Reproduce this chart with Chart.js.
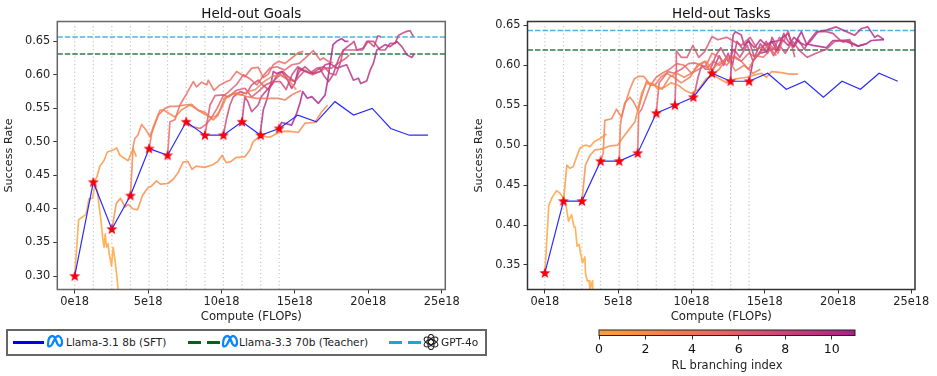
<!DOCTYPE html>
<html>
<head>
<meta charset="utf-8">
<script src="https://cdn.jsdelivr.net/npm/chart.js@4"></script>
<style>
    html, body { margin: 0; padding: 0; background: #fff; overflow: hidden; }
    body { width: 937px; height: 376px; position: relative; font-family: "DejaVu Sans", sans-serif; }
    canvas { position: absolute; }
    #legend { position: absolute; left: 6px; top: 329px; width: 477px; height: 23px; border: 2px solid #666; font-size: 10.6px; color: #222; }
    #legend span { position: absolute; top: 5px; white-space: nowrap; }
    #legend svg { position: absolute; }
    #legend i { position: absolute; height: 3px; top: 9.5px; }
</style>
</head>
<body>
<canvas id="goalsChart" style="left:0;top:0"></canvas>
<canvas id="tasksChart" style="left:470px;top:0"></canvas>
<canvas id="barChart" style="left:570px;top:322px"></canvas>
<div id="legend">
    <i style="left:5px;width:31px;background:#0000f0"></i>
    <svg style="left:38px;top:3px" width="18" height="14" viewBox="0 0 18 14"><path d="M2 11 C2 3 5 2 6.5 2 C9 2 10 7 11.5 10 C12.5 12 15.5 13 16 9 C16.4 5 14 2 12 2 C9.5 2 7.5 8 6 10.5 C4.5 13 2 13 2 11 Z" fill="none" stroke="#0a84ff" stroke-width="2.3"/></svg>
    <span style="left:58px">Llama-3.1 8b (SFT)</span>
    <i style="left:180px;width:13px;background:#0b5f1c"></i>
    <i style="left:199px;width:13px;background:#0b5f1c"></i>
    <svg style="left:213px;top:3px" width="18" height="14" viewBox="0 0 18 14"><path d="M2 11 C2 3 5 2 6.5 2 C9 2 10 7 11.5 10 C12.5 12 15.5 13 16 9 C16.4 5 14 2 12 2 C9.5 2 7.5 8 6 10.5 C4.5 13 2 13 2 11 Z" fill="none" stroke="#0a84ff" stroke-width="2.3"/></svg>
    <span style="left:231px">Llama-3.3 70b (Teacher)</span>
    <i style="left:381px;width:13px;background:#1aa7d6"></i>
    <i style="left:400px;width:13px;background:#1aa7d6"></i>
    <svg style="left:415px;top:3px" width="16" height="16" viewBox="-8 -8 16 16" fill="none" stroke="#222" stroke-width="1.2">
        <ellipse rx="3" ry="5.2" cy="-2.4" transform="rotate(0)"/><ellipse rx="3" ry="5.2" cy="-2.4" transform="rotate(60)"/><ellipse rx="3" ry="5.2" cy="-2.4" transform="rotate(120)"/>
        <ellipse rx="3" ry="5.2" cy="-2.4" transform="rotate(180)"/><ellipse rx="3" ry="5.2" cy="-2.4" transform="rotate(240)"/><ellipse rx="3" ry="5.2" cy="-2.4" transform="rotate(300)"/>
    </svg>
    <span style="left:433px">GPT-4o</span>
</div>
<script>
// compute values are in units of 1e18 FLOPs
const sftX = [0, 1.27, 2.53, 3.8, 5.07, 6.33, 7.6, 8.87, 10.13, 11.4, 12.67, 13.93, 15.2, 16.47, 17.73, 19, 20.27, 21.53, 22.8, 24.07];
const goalsSft = [0.30, 0.44, 0.37, 0.42, 0.49, 0.48, 0.53, 0.51, 0.51, 0.53, 0.51, 0.52, 0.54, 0.53, 0.56, 0.54, 0.55, 0.52, 0.51, 0.51];
const tasksSft = [0.34, 0.43, 0.43, 0.48, 0.48, 0.49, 0.54, 0.55, 0.56, 0.59, 0.58, 0.58, 0.59, 0.57, 0.58, 0.56, 0.58, 0.57, 0.59, 0.58];
const goalsTeacher = 0.631;
const goalsGpt = 0.6565;
const tasksTeacher = 0.619;
const tasksGpt = 0.6435;
const xTicks = [0, 5, 10, 15, 20, 25];

// RL branches, [compute, success rate], one per starting checkpoint
const goalsBranch0 = [[0,.30],[.27,.384],[.77,.392],[.97,.415],[1.22,.416],[1.38,.437],[1.54,.427],[1.65,.407],[1.79,.383],[1.9,.358],[2,.343],[2.08,.363],[2.17,.343],[2.28,.348],[2.35,.333],[2.51,.315],[2.62,.343],[2.74,.324],[2.85,.304],[2.96,.28],[3,.27]];
const goalsBranch1 = [[1.27,.44],[1.5,.447],[1.72,.464],[1.99,.472],[2.22,.485],[2.62,.488],[2.86,.491],[3.08,.48],[3.64,.472],[3.98,.49],[4.2,.478]];
const goalsBranch2 = [[2.53,.369],[2.83,.408],[3.12,.416],[3.42,.403],[3.64,.407],[3.98,.40],[4.28,.399],[4.62,.42],[5,.432],[5.23,.434],[5.57,.442],[5.84,.437],[6.36,.438],[6.7,.444],[7.04,.454],[7.38,.47],[7.71,.471],[7.99,.459],[8.28,.464],[8.85,.462],[9.41,.466],[9.75,.471],[10.05,.48],[10.32,.469],[10.66,.471],[11,.477],[11.2,.477],[11.6,.478],[11.94,.488],[12.15,.50],[12.62,.509],[13.3,.507],[13.98,.515],[14.55,.516],[15.23,.514],[15.69,.528],[16.37,.529],[16.83,.545],[17.23,.555]];
const goalsBranch3 = [[3.8,.42],[3.9,.46],[3.98,.493],[4.1,.505],[4.3,.51],[4.56,.526],[4.85,.518],[5.13,.508],[5.36,.523],[5.81,.547],[6.04,.548],[6.38,.543],[6.83,.537],[7.29,.548],[7.85,.555],[8.3,.549],[8.7,.543],[9.2,.537],[9.6,.538],[10,.55],[10.3,.565],[10.8,.572],[11.3,.57],[11.8,.575],[12.3,.578],[12.9,.59],[13.4,.597],[13.9,.6],[14.4,.598],[14.9,.583],[15.1,.578]];
const goalsBranch4 = [[5.07,.49],[5.25,.513],[5.7,.54],[6.15,.55],[6.5,.553],[6.95,.553],[7.5,.555],[7.97,.556],[8.42,.547],[8.88,.544],[9.44,.533],[9.77,.54],[10.2,.565],[10.58,.57],[11.03,.573],[11.72,.5675],[12.4,.565],[13.08,.565],[13.88,.565],[14.33,.5625],[14.78,.57],[15.24,.575],[15.42,.576]];
const goalsBranch5 = [[6.33,.48],[6.49,.53],[6.83,.533],[7.17,.555],[7.63,.572],[8.08,.59],[8.3,.582],[8.65,.589],[9,.585],[9.1,.592],[9.49,.577],[9.9,.585],[10.35,.59],[10.58,.592],[11.03,.605],[11.6,.597],[12.06,.61],[12.51,.611],[12.85,.596],[13.19,.601],[13.53,.615],[13.88,.62],[14.33,.617],[14.9,.627],[15.24,.633],[15.58,.635]];
const goalsBranch6 = [[7.6,.53],[7.97,.523],[8.54,.52],[8.88,.525],[9.3,.535],[9.7,.55],[10.1,.568],[10.5,.575],[11,.585],[11.5,.60],[12,.593],[12.4,.585],[12.9,.6],[13.3,.61],[13.8,.612],[14.3,.607],[14.8,.615],[15.3,.617],[15.7,.625],[16.26,.636],[16.72,.622],[16.95,.625],[17.28,.62],[17.6,.618]];
const goalsBranch7 = [[8.87,.51],[9.22,.555],[9.56,.569],[10.13,.57],[10.47,.567],[11.03,.577],[11.6,.58],[12.06,.567],[12.5,.575],[13,.585],[13.5,.59],[14,.6],[14.5,.593],[15,.59],[15.4,.6],[15.7,.607],[16.2,.6],[16.7,.605],[17.1,.61],[17.5,.61],[18,.618],[18.5,.625],[18.7,.63]];
const goalsBranch8 = [[10.13,.51],[10.35,.535],[10.58,.555],[10.8,.567],[11.26,.575],[11.7,.572],[12.06,.585],[12.5,.592],[12.8,.585],[13.2,.578],[13.6,.59],[14,.59],[14.4,.578],[14.8,.6],[15.2,.612],[15.6,.607],[16,.602],[16.5,.61],[17,.612],[17.4,.602],[17.8,.6],[18.1,.618],[18.3,.637],[18.9,.637],[19.3,.637],[19.6,.637],[20,.65],[20.4,.642],[20.65,.658],[20.85,.657]];
const goalsBranch9 = [[11.4,.53],[11.5,.55],[11.6,.567],[11.8,.56],[12.06,.545],[12.5,.555],[12.7,.567],[13,.575],[13.4,.585],[13.8,.6],[14.2,.605],[14.5,.598],[15,.59],[15.3,.605],[15.7,.612],[16.2,.602],[16.7,.61],[17,.598],[17.3,.59],[17.6,.60],[18,.625],[18.31,.637],[18.88,.647],[19.03,.65],[19.22,.637],[19.67,.64],[19.9,.65],[20.35,.65],[20.81,.637],[21.15,.637],[21.49,.647],[21.83,.647],[22.06,.659],[22.51,.664],[22.85,.666],[23.08,.657]];
const goalsBranch10 = [[12.63,.51],[12.85,.548],[13.08,.5625],[13.42,.592],[13.53,.605],[13.76,.602],[14.1,.605],[14.44,.595],[14.78,.58],[15,.587],[15.24,.61],[15.69,.605],[16.26,.602],[16.72,.605],[17.06,.615],[17.4,.617],[17.85,.61],[18.53,.615],[18.99,.592],[19.33,.595],[19.49,.587],[19.9,.591],[20.13,.607],[20.35,.617],[20.58,.637],[20.81,.64],[21.15,.645],[21.49,.642],[21.94,.65],[22.29,.642],[22.63,.63],[22.97,.626],[23.13,.631]];
const goalsBranch11 = [[13.92,.52],[14.1,.529],[14.78,.525],[15.13,.543],[15.35,.558],[15.53,.575],[15.85,.565],[16.15,.5675],[16.6,.5575],[17.06,.57],[17.24,.592],[17.44,.622],[17.6,.645],[17.85,.65],[18.19,.654],[18.42,.65],[18.65,.65]];

const tasksBranch0 = [[0,.34],[.27,.425],[.52,.4355],[.8,.443],[1.02,.44],[1.25,.434],[1.48,.421],[1.61,.405],[1.82,.413],[1.98,.398],[2.07,.3975],[2.2,.3735],[2.34,.3756],[2.43,.365],[2.57,.353],[2.73,.36],[2.77,.34],[2.89,.33],[3.02,.33],[3.07,.32],[3.25,.33],[3.26,.315]];
const tasksBranch1 = [[1.27,.43],[1.5,.475],[1.7,.471],[1.93,.473],[2.16,.485],[2.39,.496],[2.61,.499],[2.84,.5],[3.07,.498],[3.41,.505],[3.75,.508],[4.2,.514]];
const tasksBranch2 = [[2.53,.43],[2.77,.475],[3.07,.487],[3.41,.494],[3.86,.495],[4.43,.499],[4.95,.5],[5.34,.51],[5.8,.521],[6.14,.529],[6.36,.546],[6.6,.565],[6.93,.577],[7.39,.577],[7.7,.57],[8.2,.573],[8.6,.578],[9.1,.575],[9.6,.568],[10,.565],[10.5,.57],[11,.583],[11.5,.588],[11.9,.583],[12.4,.578],[13,.583],[13.8,.585],[14.3,.588],[14.77,.59],[15.12,.585],[15.46,.592],[16.02,.591],[16.7,.589],[17.27,.589]];
const tasksBranch3 = [[3.8,.48],[3.98,.49],[4.09,.531],[4.55,.533],[4.89,.545],[5.23,.535],[5.45,.55],[5.8,.57],[6.1,.583],[6.4,.586],[6.75,.586],[7.1,.578],[7.5,.575],[8,.57],[8.5,.585],[9,.59],[9.5,.585],[10,.59],[10.5,.6],[11,.605],[11.4,.595],[12,.605]];
const tasksBranch4 = [[5.07,.48],[5.15,.525],[5.23,.535],[5.45,.553],[5.8,.56],[6.02,.555],[6.36,.543],[6.6,.56],[6.93,.58],[7.2,.575],[7.5,.575],[7.9,.585],[8.3,.59],[8.8,.585],[9.3,.578],[9.9,.585],[10.4,.6],[10.9,.605],[11.4,.588],[11.9,.595],[12.4,.61],[13,.593],[13.6,.6],[14.2,.59],[14.7,.595]];
const tasksBranch5 = [[6.33,.49],[6.4,.54],[6.6,.545],[6.9,.56],[7.2,.575],[7.6,.585],[8,.59],[8.5,.595],[9,.602],[9.5,.6],[10,.59],[10.5,.595],[11,.6],[11.4,.615],[11.9,.61],[12.4,.6],[12.9,.612],[13.4,.605],[13.9,.595],[14.4,.612],[14.9,.61],[15.4,.62],[15.8,.612]];
const tasksBranch6 = [[7.6,.54],[7.7,.56],[7.8,.578],[8.1,.585],[8.4,.592],[8.8,.59],[9.3,.595],[9.8,.602],[10.2,.603],[10.7,.6],[11.1,.597],[11.5,.605],[11.9,.6],[12.4,.61],[12.9,.61],[13.4,.605],[13.9,.615],[14.4,.61],[14.9,.62],[15.4,.625],[15.9,.615],[16.2,.63]];
const tasksBranch7 = [[8.87,.55],[8.95,.59],[8.97,.618],[9.3,.61],[9.7,.61],[10.1,.625],[10.5,.61],[10.9,.617],[11.4,.636],[11.8,.632],[12.4,.635],[12.9,.63],[13.4,.625],[14,.635],[14.5,.62],[15,.625],[15.6,.62],[16,.635],[16.3,.63],[16.6,.643],[17.05,.61]];
const tasksBranch8 = [[10.13,.56],[10.25,.568],[10.45,.585],[10.7,.6],[10.95,.595],[11.3,.595],[11.65,.612],[12,.622],[12.5,.605],[12.9,.62],[13.3,.61],[13.8,.625],[14.2,.605],[14.7,.618],[15.1,.63],[15.6,.612],[16,.625],[16.4,.615],[16.9,.63],[17.4,.618],[17.9,.61],[18.5,.615],[19.2,.62],[19.77,.63],[20.8,.632],[20.98,.623]];
const tasksBranch9 = [[11.4,.59],[11.6,.6],[11.9,.612],[12.2,.6],[12.5,.615],[12.8,.6],[13.1,.63],[13.5,.62],[13.9,.632],[14.3,.61],[14.7,.627],[15.2,.615],[15.5,.635],[15.9,.62],[16.3,.64],[16.6,.63],[17,.623],[17.3,.632],[17.7,.62],[18,.63],[18.52,.642],[19.2,.642],[19.65,.64],[20.1,.632],[20.34,.629],[20.68,.631],[21.36,.624],[21.93,.627]];
const tasksBranch10 = [[12.67,.58],[12.75,.62],[12.85,.638],[13,.642],[13.4,.638],[13.6,.625],[13.9,.63],[14.3,.622],[14.7,.632],[15.1,.625],[15.5,.63],[15.8,.618],[16.2,.632],[16.6,.625],[17,.635],[17.4,.628],[17.8,.625],[18.06,.629],[18.63,.642],[19.2,.644],[19.88,.648],[20.34,.644],[21.13,.6375],[21.59,.646],[22.04,.648],[22.5,.635],[22.72,.6375],[23.13,.632]];
const tasksBranch11 = [[13.93,.58],[13.97,.583],[14.2,.606],[14.66,.615],[15.11,.617],[15.45,.629],[16,.631],[16.59,.64],[16.93,.623],[17.5,.642],[17.84,.627],[18.3,.625],[19.2,.622],[19.65,.631],[20.34,.631],[20.68,.629],[21.36,.624],[21.93,.627],[22.27,.631],[23.13,.632]];

const goalsBranches = [goalsBranch0, goalsBranch1, goalsBranch2, goalsBranch3, goalsBranch4, goalsBranch5, goalsBranch6, goalsBranch7, goalsBranch8, goalsBranch9, goalsBranch10, goalsBranch11];
const tasksBranches = [tasksBranch0, tasksBranch1, tasksBranch2, tasksBranch3, tasksBranch4, tasksBranch5, tasksBranch6, tasksBranch7, tasksBranch8, tasksBranch9, tasksBranch10, tasksBranch11];

const barTicks = [0, 2, 4, 6, 8, 10];
const barMax = 11;

const colorOrange = [255, 160, 50];
const colorMid = [232, 98, 100];
const colorPurple = [168, 30, 140];

Chart.defaults.font.family = '"DejaVu Sans", sans-serif';
Chart.defaults.color = '#222';

// orange to purple, same map as the colour bar
function branchColor(i, alpha)
{
    let t = i / barMax;
    let a = t < 0.5 ? colorOrange : colorMid;
    let b = t < 0.5 ? colorMid : colorPurple;
    let f = t < 0.5 ? t * 2 : (t - 0.5) * 2;
    let c = [0, 1, 2].map(k => Math.round(a[k] + (b[k] - a[k]) * f));
    return 'rgba(' + c[0] + ',' + c[1] + ',' + c[2] + ',' + alpha + ')';
}

function makeStar()
{
    const c = document.createElement('canvas');
    c.width = 12;
    c.height = 12;
    const g = c.getContext('2d');
    g.beginPath();
    for(let i = 0; i < 10; i++)
    {
        let r = i % 2 == 0 ? 5.8 : 2.4;
        let ang = -Math.PI / 2 + i * Math.PI / 5;
        g.lineTo(6 + r * Math.cos(ang), 6.3 + r * Math.sin(ang));
    }
    g.closePath();
    g.fillStyle = '#f5000f';
    g.fill();
    return c;
}
const star = makeStar();

// full box round the plot
const frame = {
    id: 'frame',
    afterDraw(chart) {
        const a = chart.chartArea;
        const g = chart.ctx;
        g.save();
        g.strokeStyle = chart.options.frameColor || '#555';
        g.lineWidth = chart.options.frameWidth || 1.5;
        g.strokeRect(a.left, a.top, a.right - a.left, a.bottom - a.top);
        g.restore();
    }
};

function lineChart(id, width, height, title, sft, teacher, gpt, branches, yMin, yMax, plotLeft, plotRight, frameColor)
{
    const xMin = -1.185;
    const xMax = 25.25;
    const data = [];
    data.push({
        data: sftX.slice(0, 12).map((x, i) => ({x: x, y: sft[i]})),
        showLine: false, pointStyle: star, pointRadius: 6
    });
    data.push({
        data: sftX.map((x, i) => ({x: x, y: sft[i]})),
        borderColor: 'rgba(20,20,255,0.9)', borderWidth: 1.2, pointRadius: 0
    });
    branches.forEach((b, i) => {
        data.push({
            data: b.map(p => ({x: p[0], y: p[1]})),
            borderColor: branchColor(i, 0.8), borderWidth: 1.7, pointRadius: 0,
            borderJoinStyle: 'round'
        });
    });
    data.push({
        data: [{x: xMin, y: teacher}, {x: xMax, y: teacher}],
        borderColor: 'rgba(0,90,25,0.8)', borderWidth: 1.5, borderDash: [5.5, 2], pointRadius: 0
    });
    data.push({
        data: [{x: xMin, y: gpt}, {x: xMax, y: gpt}],
        borderColor: 'rgba(25,165,210,0.8)', borderWidth: 1.5, borderDash: [5.5, 2], pointRadius: 0
    });
    sftX.slice(0, 12).forEach(x => {
        data.push({
            data: [{x: x, y: yMin}, {x: x, y: yMin + (yMax - yMin) * 0.99}],
            borderColor: 'rgba(150,150,150,0.55)', borderWidth: 1.2, borderDash: [1.2, 2.6], pointRadius: 0
        });
    });

    const el = document.getElementById(id);
    el.style.width = width + 'px';
    el.style.height = height + 'px';
    return new Chart(el, {
        type: 'line',
        data: {datasets: data},
        plugins: [frame],
        options: {
            responsive: false,
            animation: false,
            devicePixelRatio: 1,
            frameColor: frameColor,
            layout: {padding: {left: 0, right: width - plotRight, top: 0, bottom: 0}},
            plugins: {
                legend: {display: false},
                tooltip: {enabled: false},
                title: {
                    display: true,
                    fullSize: false,
                    text: title,
                    color: '#111',
                    font: {size: 13.5, weight: 'normal', lineHeight: 1},
                    padding: {top: 8, bottom: 0}
                }
            },
            scales: {
                x: {
                    type: 'linear',
                    min: xMin,
                    max: xMax,
                    afterFit: (s) => { s.height = height - 289.5; },
                    afterBuildTicks: (s) => { s.ticks = xTicks.map(v => ({value: v})); },
                    grid: {drawOnChartArea: false, tickLength: 4, color: '#333'},
                    border: {display: false},
                    ticks: {
                        autoSkip: false, maxRotation: 0, padding: 2,
                        font: {size: 11.4},
                        callback: (v) => v + 'e18'
                    },
                    title: {display: true, text: 'Compute (FLOPs)', font: {size: 11.7}, padding: {top: 0, bottom: 2.4}}
                },
                y: {
                    min: yMin,
                    max: yMax,
                    afterFit: (s) => { s.width = plotLeft; },
                    grid: {drawOnChartArea: false, tickLength: 4, color: '#333'},
                    border: {display: false},
                    ticks: {
                        stepSize: 0.05, includeBounds: false, padding: 3,
                        font: {size: 11.4},
                        callback: (v) => v.toFixed(2)
                    },
                    title: {display: true, text: 'Success Rate', font: {size: 11.2}, padding: {top: 2.4, bottom: 0}}
                }
            }
        }
    });
}

lineChart('goalsChart', 470, 326, 'Held-out Goals', goalsSft, goalsTeacher, goalsGpt, goalsBranches, 0.28, 0.6795, 57.3, 445.3, '#666');
lineChart('tasksChart', 467, 326, 'Held-out Tasks', tasksSft, tasksTeacher, tasksGpt, tasksBranches, 0.3193, 0.6548, 57.5, 445, '#333');

// colour bar, a single floating bar on the index scale
const barEl = document.getElementById('barChart');
barEl.style.width = '320px';
barEl.style.height = '54px';
new Chart(barEl, {
    type: 'bar',
    data: {
        labels: ['index'],
        datasets: [{
            data: [[0, barMax]],
            barPercentage: 1,
            categoryPercentage: 1,
            backgroundColor: (c) => {
                const a = c.chart.chartArea;
                if(!a) return branchColor(0, 1);
                const grad = c.chart.ctx.createLinearGradient(a.left, 0, a.right, 0);
                grad.addColorStop(0, branchColor(0, 1));
                grad.addColorStop(0.5, branchColor(barMax / 2, 1));
                grad.addColorStop(1, branchColor(barMax, 1));
                return grad;
            }
        }]
    },
    plugins: [frame],
    options: {
        indexAxis: 'y',
        responsive: false,
        animation: false,
        devicePixelRatio: 1,
        frameColor: '#222',
        frameWidth: 1,
        layout: {padding: {left: 29, right: 35, top: 8, bottom: 0}},
        plugins: {legend: {display: false}, tooltip: {enabled: false}},
        scales: {
            y: {display: false},
            x: {
                type: 'linear',
                min: 0,
                max: barMax,
                afterFit: (s) => { s.height = 40.5; },
                afterBuildTicks: (s) => { s.ticks = barTicks.map(v => ({value: v})); },
                grid: {drawOnChartArea: false, tickLength: 4, color: '#333'},
                border: {display: false},
                ticks: {autoSkip: false, maxRotation: 0, padding: 3, font: {size: 12.5}, color: '#111'},
                title: {display: true, text: 'RL branching index', font: {size: 11.5}, padding: {top: 0, bottom: 3}}
            }
        }
    }
});
</script>
</body>
</html>
